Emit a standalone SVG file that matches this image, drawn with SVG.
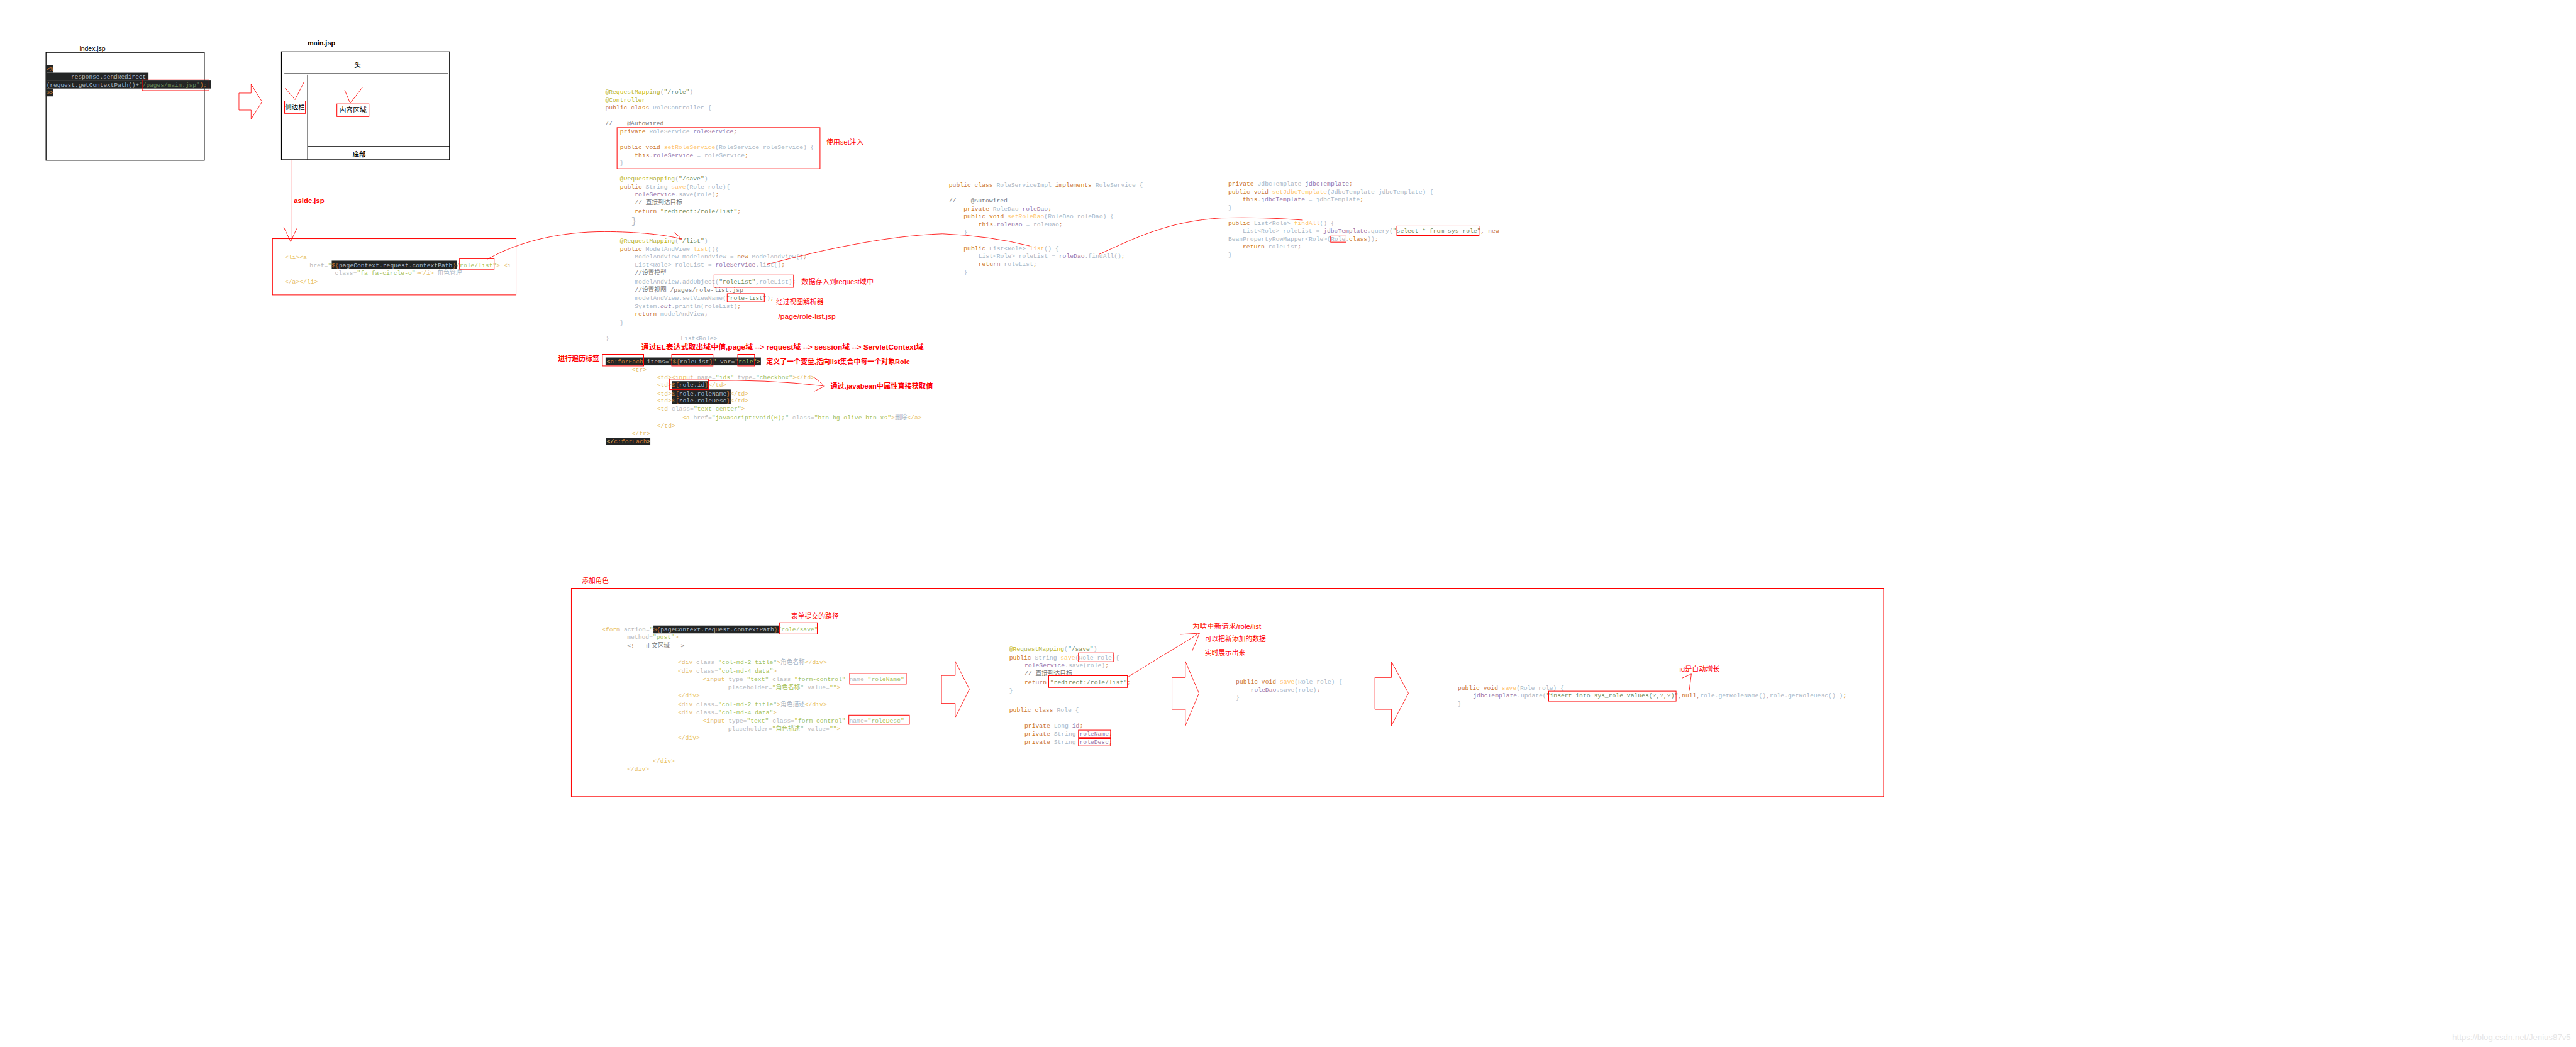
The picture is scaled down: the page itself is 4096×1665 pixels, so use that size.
<svg xmlns="http://www.w3.org/2000/svg" width="4096" height="1665" viewBox="0 0 4096 1665" xml:space="preserve">
<style>
.code{font-family:"Liberation Mono","Noto Sans CJK SC",monospace;font-size:11.6px;fill:#a9b7c6}
.k{fill:#cc7832}
.an{fill:#bbb529}
.f{fill:#9876aa}
.m{fill:#ffc66d}
.s{fill:#6a8759}
.c{fill:#787878}
.tg{fill:#e8bf6a}
.at{fill:#bababa}
.v{fill:#a5c261}
.hl{fill:#232525}
.rb{fill:none;stroke:#ff0000;stroke-width:1.2}
.rl{fill:none;stroke:#ff0000;stroke-width:1}
.note{font-family:"Liberation Sans","Noto Sans CJK SC",sans-serif;font-size:13px;fill:#ff0000}
.nb{font-weight:bold}
.blk{fill:none;stroke:#000;stroke-width:1.5}
.lbl{font-family:"Liberation Sans","Noto Sans CJK SC",sans-serif;fill:#000}
</style>
<rect x="0" y="0" width="4096" height="1665" fill="#ffffff"/>
<g transform="scale(0.83729)">

<g id="index-jsp">
<text class="lbl" x="151" y="97" font-size="12.5">index.jsp</text>
<rect class="blk" x="87.4" y="99.3" width="300.6" height="205"/>
<rect class="hl" x="87" y="124" width="14" height="14"/>
<rect class="hl" x="87" y="138" width="195" height="15"/>
<rect class="hl" x="87" y="153" width="314" height="15"/>
<rect class="hl" x="87" y="168" width="14" height="15"/>
<text class="code" x="88" y="135" style="font-size:11.3px"><tspan class="k">&lt;%</tspan></text>
<text class="code" x="135" y="149.5" style="font-size:11.3px">response.sendRedirect</text>
<text class="code" x="88" y="164.5" style="font-size:11.3px">(request.getContextPath()+<tspan class="s">"/pages/main.jsp"</tspan><tspan class="k">);</tspan></text>
<text class="code" x="88" y="179.5" style="font-size:11.3px"><tspan class="k">%&gt;</tspan></text>
<rect class="rb" x="270" y="152" width="127" height="20"/>
</g>

<g id="main-jsp">
<text class="lbl" x="584" y="86" font-size="13" font-weight="bold">main.jsp</text>
<rect class="blk" x="534.5" y="98.3" width="319.2" height="205"/>
<line x1="540" y1="140" x2="851" y2="140" stroke="#000" stroke-width="1.5"/>
<line x1="584" y1="142" x2="584" y2="303" stroke="#000" stroke-width="1"/>
<line x1="584" y1="278" x2="855" y2="278" stroke="#000" stroke-width="1.5"/>
<text class="lbl" x="679" y="127.5" font-size="12.5" font-weight="bold" text-anchor="middle">头</text>
<text class="lbl" x="682" y="297.5" font-size="12.5" font-weight="bold" text-anchor="middle">底部</text>
<rect class="rb" x="540.5" y="191.7" width="39.5" height="23.6"/>
<text class="lbl" x="560.2" y="208" font-size="12.5" text-anchor="middle">侧边栏</text>
<rect class="rb" x="639.8" y="197.3" width="60.9" height="24"/>
<text class="lbl" x="670.2" y="214" font-size="13" text-anchor="middle">内容区域</text>
<polyline class="rl" points="541.6,167.3 560.2,189.3 577.2,156"/>
<polyline class="rl" points="654.6,171 665,196 689,165"/>
</g>

<g id="aside-jsp">
<rect class="rb" x="517.5" y="453.3" width="462.5" height="106.7"/>
<rect class="hl" x="630" y="495" width="238" height="15"/>
<text class="code" x="541" y="492"><tspan class="tg">&lt;li&gt;&lt;a</tspan></text>
<text class="code" x="588" y="507"><tspan class="at">href=</tspan><tspan class="v">"</tspan><tspan class="k">${</tspan>pageContext.request.contextPath<tspan class="k">}</tspan><tspan class="v">/role/list"</tspan><tspan class="tg">&gt; &lt;i</tspan></text>
<text class="code" x="636" y="522"><tspan class="at">class=</tspan><tspan class="v">"fa fa-circle-o"</tspan><tspan class="tg">&gt;&lt;/i&gt;</tspan> 角色管理</text>
<text class="code" x="541" y="539"><tspan class="tg">&lt;/a&gt;&lt;/li&gt;</tspan></text>
<rect class="rb" x="872.7" y="491.3" width="65.7" height="20"/>
</g>

<g id="role-controller">
<text class="code" x="1149.4" y="178"><tspan class="an">@RequestMapping</tspan>(<tspan class="s">"/role"</tspan>)</text>
<text class="code" x="1149.4" y="193"><tspan class="an">@Controller</tspan></text>
<text class="code" x="1149.4" y="208"><tspan class="k">public class </tspan>RoleController {</text>
<text class="code c" x="1149.4" y="238">//</text>
<text class="code c" x="1191" y="238">@Autowired</text>
<text class="code" x="1177.4" y="253"><tspan class="k">private </tspan>RoleService <tspan class="f">roleService</tspan><tspan class="k">;</tspan></text>
<text class="code" x="1177.4" y="283"><tspan class="k">public void </tspan><tspan class="m">setRoleService</tspan>(RoleService roleService) {</text>
<text class="code" x="1205.4" y="298"><tspan class="k">this</tspan>.<tspan class="f">roleService</tspan> = roleService<tspan class="k">;</tspan></text>
<text class="code" x="1177.4" y="313">}</text>
<rect class="rb" x="1171.8" y="242.3" width="385.5" height="78"/>
<text class="code" x="1177.4" y="343"><tspan class="an">@RequestMapping</tspan>(<tspan class="s">"/save"</tspan>)</text>
<text class="code" x="1177.4" y="358"><tspan class="k">public </tspan>String <tspan class="m">save</tspan>(Role role){</text>
<text class="code" x="1205.4" y="373"><tspan class="f">roleService</tspan>.save(role)<tspan class="k">;</tspan></text>
<text class="code c" x="1205.4" y="388">//  直接到达目标</text>
<text class="code" x="1205.4" y="404.7"><tspan class="k">return </tspan><tspan class="s">"redirect:/role/list"</tspan><tspan class="k">;</tspan></text>
<text class="code" x="1199" y="425" style="font-size:17px">}</text>
<text class="code" x="1177.4" y="460.7"><tspan class="an">@RequestMapping</tspan>(<tspan class="s">"/list"</tspan>)</text>
<text class="code" x="1177.4" y="476.3"><tspan class="k">public </tspan>ModelAndView <tspan class="m">list</tspan>(){</text>
<text class="code" x="1205.4" y="491.3">ModelAndView modelAndView = <tspan class="k">new </tspan>ModelAndView()<tspan class="k">;</tspan></text>
<text class="code" x="1205.4" y="506.3">List&lt;Role&gt; roleList = <tspan class="f">roleService</tspan>.list()<tspan class="k">;</tspan></text>
<text class="code c" x="1205.4" y="522.3">//设置模型</text>
<text class="code" x="1205.4" y="538.3">modelAndView.addObject(<tspan class="s">"roleList"</tspan>,roleList)<tspan class="k">;</tspan></text>
<text class="code c" x="1205.4" y="554">//设置视图  /pages/role-list.jsp</text>
<text class="code" x="1205.4" y="570">modelAndView.setViewName(<tspan class="s">"role-list"</tspan>)<tspan class="k">;</tspan></text>
<text class="code" x="1205.4" y="585">System.<tspan class="f" font-style="italic">out</tspan>.println(roleList)<tspan class="k">;</tspan></text>
<text class="code" x="1205.4" y="600"><tspan class="k">return </tspan>modelAndView<tspan class="k">;</tspan></text>
<text class="code" x="1177.4" y="615.7">}</text>
<text class="code" x="1149.4" y="645.7">}</text>
<text class="code" x="1292.5" y="645.7">List&lt;Role&gt;</text>
<rect class="rb" x="1356" y="522.3" width="151" height="23.4"/>
<rect class="rb" x="1381" y="557.7" width="70.5" height="15.6"/>
</g>

<g id="role-list-jsp">
<rect class="hl" x="1150" y="679" width="295" height="15"/>
<text class="code" x="1152" y="690"><tspan class="tg">&lt;</tspan><tspan class="k">c:forEach</tspan><tspan class="at"> items=</tspan><tspan class="v">"</tspan><tspan class="k">${</tspan>roleList<tspan class="k">}</tspan><tspan class="v">"</tspan><tspan class="at"> var=</tspan><tspan class="v">"role"</tspan><tspan class="tg">&gt;</tspan></text>
<rect class="rb" x="1144" y="673" width="78.4" height="22"/>
<rect class="rb" x="1275.6" y="673" width="78.4" height="22"/>
<rect class="rb" x="1401" y="673" width="32" height="22"/>
<text class="code" x="1200" y="705.7"><tspan class="tg">&lt;tr&gt;</tspan></text>
<text class="code" x="1247.7" y="720.7"><tspan class="tg">&lt;td&gt;&lt;input </tspan><tspan class="at">name=</tspan><tspan class="v">"ids"</tspan><tspan class="at"> type=</tspan><tspan class="v">"checkbox"</tspan><tspan class="tg">&gt;&lt;/td&gt;</tspan></text>
<rect class="hl" x="1275.7" y="724" width="70" height="14"/>
<rect class="hl" x="1275.7" y="739.7" width="112" height="14"/>
<rect class="hl" x="1275.7" y="753.7" width="112" height="14"/>
<text class="code" x="1247.7" y="735"><tspan class="tg">&lt;td&gt;</tspan><tspan class="k">${</tspan>role.id<tspan class="k">}</tspan><tspan class="tg">&lt;/td&gt;</tspan></text>
<text class="code" x="1247.7" y="750.7"><tspan class="tg">&lt;td&gt;</tspan><tspan class="k">${</tspan>role.roleName<tspan class="k">}</tspan><tspan class="tg">&lt;/td&gt;</tspan></text>
<text class="code" x="1247.7" y="764.7"><tspan class="tg">&lt;td&gt;</tspan><tspan class="k">${</tspan>role.roleDesc<tspan class="k">}</tspan><tspan class="tg">&lt;/td&gt;</tspan></text>
<text class="code" x="1247.7" y="780"><tspan class="tg">&lt;td </tspan><tspan class="at">class=</tspan><tspan class="v">"text-center"</tspan><tspan class="tg">&gt;</tspan></text>
<text class="code" x="1296" y="796.3"><tspan class="tg">&lt;a </tspan><tspan class="at">href=</tspan><tspan class="v">"javascript:void(0);"</tspan><tspan class="at"> class=</tspan><tspan class="v">"btn bg-olive btn-xs"</tspan><tspan class="tg">&gt;</tspan>删除<tspan class="tg">&lt;/a&gt;</tspan></text>
<text class="code" x="1247.7" y="812.3"><tspan class="tg">&lt;/td&gt;</tspan></text>
<text class="code" x="1200" y="826.7"><tspan class="tg">&lt;/tr&gt;</tspan></text>
<rect class="hl" x="1150.3" y="831.5" width="84.7" height="14"/>
<text class="code" x="1152" y="842"><tspan class="tg">&lt;/</tspan><tspan class="k">c:forEach</tspan><tspan class="tg">&gt;</tspan></text>
<rect class="rb" x="1271.6" y="720" width="74" height="20"/>
</g>

<g id="role-service-impl">
<text class="code" x="1802" y="355"><tspan class="k">public class </tspan>RoleServiceImpl <tspan class="k">implements </tspan>RoleService {</text>
<text class="code c" x="1802" y="385">//</text>
<text class="code c" x="1843.6" y="385">@Autowired</text>
<text class="code" x="1830" y="400"><tspan class="k">private </tspan>RoleDao <tspan class="f">roleDao</tspan><tspan class="k">;</tspan></text>
<text class="code" x="1830" y="415"><tspan class="k">public void </tspan><tspan class="m">setRoleDao</tspan>(RoleDao roleDao) {</text>
<text class="code" x="1858" y="430"><tspan class="k">this</tspan>.<tspan class="f">roleDao</tspan> = roleDao<tspan class="k">;</tspan></text>
<text class="code" x="1830" y="444">}</text>
<text class="code" x="1830" y="475"><tspan class="k">public </tspan>List&lt;Role&gt; <tspan class="m">list</tspan>() {</text>
<text class="code" x="1858" y="490">List&lt;Role&gt; roleList = <tspan class="f">roleDao</tspan>.findAll()<tspan class="k">;</tspan></text>
<text class="code" x="1858" y="505"><tspan class="k">return </tspan>roleList<tspan class="k">;</tspan></text>
<text class="code" x="1830" y="520.7">}</text>
</g>

<g id="role-dao-impl">
<text class="code" x="2332.4" y="352.3"><tspan class="k">private </tspan>JdbcTemplate <tspan class="f">jdbcTemplate</tspan><tspan class="k">;</tspan></text>
<text class="code" x="2332.4" y="367.3"><tspan class="k">public void </tspan><tspan class="m">setJdbcTemplate</tspan>(JdbcTemplate jdbcTemplate) {</text>
<text class="code" x="2360" y="382.3"><tspan class="k">this</tspan>.<tspan class="f">jdbcTemplate</tspan> = jdbcTemplate<tspan class="k">;</tspan></text>
<text class="code" x="2332.4" y="397.3">}</text>
<text class="code" x="2332.4" y="427.3"><tspan class="k">public </tspan>List&lt;Role&gt; <tspan class="m">findAll</tspan>() {</text>
<text class="code" x="2360" y="442.3">List&lt;Role&gt; roleList = <tspan class="f">jdbcTemplate</tspan>.query(<tspan class="s">"select * from sys_role"</tspan><tspan class="k">, new</tspan></text>
<text class="code" x="2332.4" y="457.3">BeanPropertyRowMapper&lt;Role&gt;(Role.<tspan class="k">class</tspan>))<tspan class="k">;</tspan></text>
<text class="code" x="2360" y="472.3"><tspan class="k">return </tspan>roleList<tspan class="k">;</tspan></text>
<text class="code" x="2332.4" y="487.3">}</text>
<rect class="rb" x="2652.7" y="429.3" width="156.1" height="18"/>
<rect class="rb" x="2527" y="448.3" width="29.4" height="11.7"/>
</g>

<g id="notes-top">
<text class="note" x="1569" y="275" textLength="71" lengthAdjust="spacingAndGlyphs">使用set注入</text>
<text class="note" x="1522" y="540" textLength="137" lengthAdjust="spacingAndGlyphs">数据存入到request域中</text>
<text class="note" x="1473.4" y="578" textLength="90.6" lengthAdjust="spacingAndGlyphs">经过视图解析器</text>
<text class="note" x="1478" y="606" textLength="109" lengthAdjust="spacingAndGlyphs">/page/role-list.jsp</text>
<text class="note nb" x="1218" y="664" textLength="536" lengthAdjust="spacingAndGlyphs">通过EL表达式取出域中值,page域 --&gt;  request域 --&gt;  session域  --&gt;  ServletContext域</text>
<text class="note nb" x="1060" y="685" textLength="78" lengthAdjust="spacingAndGlyphs">进行遍历标签</text>
<text class="note nb" x="1455" y="692" textLength="273" lengthAdjust="spacingAndGlyphs">定义了一个变量,指向list集合中每一个对象Role</text>
<text class="note nb" x="1577" y="738" textLength="194.6" lengthAdjust="spacingAndGlyphs">通过.javabean中属性直接获取值</text>
<text class="note nb" x="558" y="385.5" font-size="13.5" textLength="58" lengthAdjust="spacingAndGlyphs">aside.jsp</text>
</g>

<g id="add-role">
<rect class="rb" x="1085" y="1117.3" width="2492" height="395.7"/>
<text class="note" x="1105" y="1107.5" textLength="51" lengthAdjust="spacingAndGlyphs">添加角色</text>
</g>

<g id="role-add-form">
<text class="note" x="1502" y="1175.5" textLength="91" lengthAdjust="spacingAndGlyphs">表单提交的路径</text>
<rect class="hl" x="1241" y="1188" width="238.6" height="15"/>
<text class="code" x="1143" y="1199"><tspan class="tg">&lt;form </tspan><tspan class="at">action=</tspan><tspan class="v">"</tspan><tspan class="k">${</tspan>pageContext.request.contextPath<tspan class="k">}</tspan><tspan class="v">/role/save"</tspan></text>
<rect class="rb" x="1480.5" y="1182.7" width="71.5" height="21.6"/>
<text class="code" x="1191" y="1214"><tspan class="at">method=</tspan><tspan class="v">"post"</tspan><tspan class="tg">&gt;</tspan></text>
<text class="code c" x="1191" y="1229.7">&lt;!-- 正文区域 --&gt;</text>
<text class="code" x="1287.4" y="1261.7"><tspan class="tg">&lt;div </tspan><tspan class="at">class=</tspan><tspan class="v">"col-md-2 title"</tspan><tspan class="tg">&gt;</tspan>角色名称<tspan class="tg">&lt;/div&gt;</tspan></text>
<text class="code" x="1287.4" y="1278"><tspan class="tg">&lt;div </tspan><tspan class="at">class=</tspan><tspan class="v">"col-md-4 data"</tspan><tspan class="tg">&gt;</tspan></text>
<text class="code" x="1334.7" y="1293.3"><tspan class="tg">&lt;input </tspan><tspan class="at">type=</tspan><tspan class="v">"text"</tspan><tspan class="at"> class=</tspan><tspan class="v">"form-control"</tspan><tspan class="at"> name=</tspan><tspan class="v">"roleName"</tspan></text>
<rect class="rb" x="1613.5" y="1279" width="107.5" height="20.3"/>
<text class="code" x="1382.8" y="1309"><tspan class="at">placeholder=</tspan><tspan class="v">"角色名称"</tspan><tspan class="at"> value=</tspan><tspan class="v">""</tspan><tspan class="tg">&gt;</tspan></text>
<text class="code" x="1287.4" y="1324.7"><tspan class="tg">&lt;/div&gt;</tspan></text>
<text class="code" x="1287.4" y="1340.7"><tspan class="tg">&lt;div </tspan><tspan class="at">class=</tspan><tspan class="v">"col-md-2 title"</tspan><tspan class="tg">&gt;</tspan>角色描述<tspan class="tg">&lt;/div&gt;</tspan></text>
<text class="code" x="1287.4" y="1356.7"><tspan class="tg">&lt;div </tspan><tspan class="at">class=</tspan><tspan class="v">"col-md-4 data"</tspan><tspan class="tg">&gt;</tspan></text>
<text class="code" x="1334.7" y="1372.3"><tspan class="tg">&lt;input </tspan><tspan class="at">type=</tspan><tspan class="v">"text"</tspan><tspan class="at"> class=</tspan><tspan class="v">"form-control"</tspan><tspan class="at"> name=</tspan><tspan class="v">"roleDesc"</tspan></text>
<rect class="rb" x="1612" y="1358.3" width="115" height="17.4"/>
<text class="code" x="1382.8" y="1388"><tspan class="at">placeholder=</tspan><tspan class="v">"角色描述"</tspan><tspan class="at"> value=</tspan><tspan class="v">""</tspan><tspan class="tg">&gt;</tspan></text>
<text class="code" x="1287.4" y="1404"><tspan class="tg">&lt;/div&gt;</tspan></text>
<text class="code" x="1239.7" y="1449.3"><tspan class="tg">&lt;/div&gt;</tspan></text>
<text class="code" x="1191" y="1464"><tspan class="tg">&lt;/div&gt;</tspan></text>
</g>

<g id="save-controller">
<text class="code" x="1916.6" y="1236.7"><tspan class="an">@RequestMapping</tspan>(<tspan class="s">"/save"</tspan>)</text>
<text class="code" x="1916.6" y="1252.3"><tspan class="k">public </tspan>String <tspan class="m">save</tspan>(Role role){</text>
<text class="code" x="1945.6" y="1267.3"><tspan class="f">roleService</tspan>.save(role)<tspan class="k">;</tspan></text>
<text class="code c" x="1945.6" y="1282.3">//  直接到达目标</text>
<text class="code" x="1945.6" y="1299"><tspan class="k">return </tspan><tspan class="s">"redirect:/role/list"</tspan><tspan class="k">;</tspan></text>
<text class="code" x="1916.6" y="1314.7">}</text>
<text class="code" x="1916.6" y="1352.3"><tspan class="k">public class </tspan>Role {</text>
<text class="code" x="1945.6" y="1382.3"><tspan class="k">private </tspan>Long <tspan class="f">id</tspan><tspan class="k">;</tspan></text>
<text class="code" x="1945.6" y="1397.3"><tspan class="k">private </tspan>String <tspan class="f">roleName</tspan><tspan class="k">;</tspan></text>
<text class="code" x="1945.6" y="1412.3"><tspan class="k">private </tspan>String <tspan class="f">roleDesc</tspan><tspan class="k">;</tspan></text>
<rect class="rb" x="2048" y="1240" width="67" height="16.7"/>
<rect class="rb" x="1991.5" y="1283.3" width="149.5" height="22.4"/>
<rect class="rb" x="2048" y="1386.7" width="61" height="14"/>
<rect class="rb" x="2048" y="1402.7" width="61" height="14"/>
</g>

<g id="save-notes">
<text class="note" x="2264.5" y="1194" textLength="130.5" lengthAdjust="spacingAndGlyphs">为啥重新请求/role/list</text>
<text class="note" x="2288" y="1218" textLength="116" lengthAdjust="spacingAndGlyphs">可以把新添加的数据</text>
<text class="note" x="2288" y="1244" textLength="77" lengthAdjust="spacingAndGlyphs">实时展示出来</text>
<text class="note" x="3189.5" y="1276" textLength="76.5" lengthAdjust="spacingAndGlyphs">id是自动增长</text>
</g>

<g id="service-save">
<text class="code" x="2347" y="1298.3"><tspan class="k">public void </tspan><tspan class="m">save</tspan>(Role role) {</text>
<text class="code" x="2375" y="1313.3"><tspan class="f">roleDao</tspan>.save(role)<tspan class="k">;</tspan></text>
<text class="code" x="2347" y="1328.3">}</text>
</g>

<g id="dao-save">
<text class="code" x="2768.4" y="1309.7"><tspan class="k">public void </tspan><tspan class="m">save</tspan>(Role role) {</text>
<text class="code" x="2797.4" y="1325"><tspan class="f">jdbcTemplate</tspan>.update(<tspan class="s">"insert into sys_role values(?,?,?)"</tspan><tspan class="k">,null,</tspan>role.getRoleName()<tspan class="k">,</tspan>role.getRoleDesc() )<tspan class="k">;</tspan></text>
<text class="code" x="2768.4" y="1340">}</text>
<rect class="rb" x="2941" y="1312.7" width="242" height="19"/>
</g>

<g id="connectors">
<polygon class="rl" points="453.8,176.7 476.9,176.7 476.9,160 497.7,193.3 476.9,226 476.9,209 453.8,209"/>
<line class="rl" x1="552.6" y1="303.5" x2="552.6" y2="458"/>
<polyline class="rl" points="539,431.7 552,459 563.5,434"/>
<path class="rl" d="M926,492 C990,456 1070,440 1148,440 C1210,440 1265,446 1294,454"/>
<line class="rl" x1="1281" y1="441.7" x2="1295" y2="454.5"/>
<path class="rl" d="M1457,502 C1560,475 1680,448 1790,444 Q1880,448 1955,467"/>
<path class="rl" d="M2087,483 C2160,450 2220,420 2320,414 Q2400,412 2474,418"/>
<path class="rl" d="M1345,723 Q1450,720 1564,733"/>
<polyline class="rl" points="1547,717.3 1566,733.3 1546,743.3"/>
<polygon class="rl" points="1788,1283 1814,1283 1814,1256 1841,1309 1814,1363 1814,1336 1788,1336"/>
<polygon class="rl" points="2225.7,1286.7 2251,1286.7 2251,1256 2277,1316.7 2251,1378.3 2251,1347.3 2225.7,1347.3"/>
<polygon class="rl" points="2611,1286.7 2642.4,1286.7 2642.4,1256.7 2674.7,1316.7 2642.4,1378 2642.4,1347.3 2611,1347.3"/>
<line class="rl" x1="2143" y1="1285" x2="2277" y2="1203"/>
<polyline class="rl" points="2241,1205 2278,1202.7 2263.6,1237.3"/>
<polyline class="rl" points="3208,1312 3212,1280 3194,1288"/>
</g>

<text x="4657" y="1975" font-family="Liberation Sans, sans-serif" font-size="14.5" fill="#e6e6e6" textLength="225" lengthAdjust="spacingAndGlyphs">https://blog.csdn.net/Jenius87v5</text>
</g>
</svg>
